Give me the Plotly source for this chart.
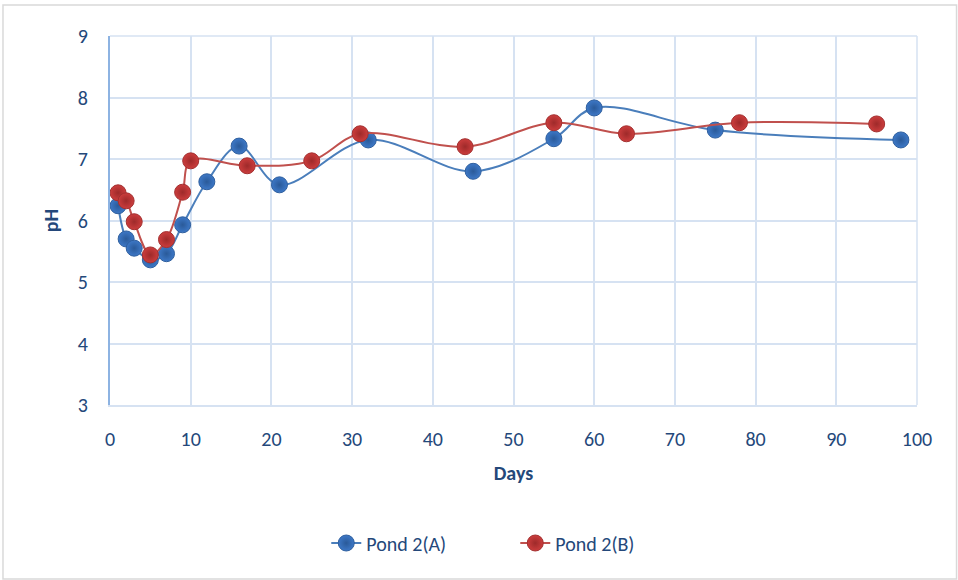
import plotly.graph_objects as go

days_a = [1, 2, 3, 5, 7, 9, 12, 16, 21, 32, 45, 55, 60, 75, 98]
ph_a = [6.24, 5.70, 5.55, 5.36, 5.46, 5.93, 6.63, 7.21, 6.58, 7.31, 6.80, 7.33, 7.83, 7.47, 7.31]

days_b = [1, 2, 3, 5, 7, 9, 10, 17, 25, 31, 44, 55, 64, 78, 95]
ph_b = [6.45, 6.32, 5.98, 5.44, 5.69, 6.46, 6.97, 6.89, 6.97, 7.41, 7.20, 7.59, 7.41, 7.59, 7.57]

x_ticks = list(range(0, 101, 10))
y_ticks = list(range(3, 10))

text_color = "#24487a"
grid_color = "#d6e2f2"
font_family = "Carlito, Calibri, Lato, 'Open Sans', sans-serif"

fig = go.Figure()
fig.add_trace(go.Scatter(
    x=days_a, y=ph_a, name="Pond 2(A)", mode="lines+markers",
    line=dict(color="#4a7ebb", width=2, shape="spline", smoothing=1.0),
    marker=dict(size=16, color="#3d78c7", line=dict(color="#2f5f9e", width=1),
                gradient=dict(type="radial", color="#2a5a99")),
))
fig.add_trace(go.Scatter(
    x=days_b, y=ph_b, name="Pond 2(B)", mode="lines+markers",
    line=dict(color="#c0504d", width=2, shape="spline", smoothing=1.0),
    marker=dict(size=16, color="#cc3d3d", line=dict(color="#a33030", width=1),
                gradient=dict(type="radial", color="#9e2a2a")),
))

fig.update_layout(
    width=958, height=580,
    margin=dict(l=110, r=41, t=36, b=175),
    paper_bgcolor="white", plot_bgcolor="white",
    font=dict(family=font_family, size=20, color=text_color),
    showlegend=True,
    legend=dict(orientation="h", x=0.268, xanchor="left", y=-0.374, yanchor="middle",
                font=dict(size=20, color=text_color), entrywidth=144, entrywidthmode="pixels"),
    xaxis=dict(range=[0, 100], tickvals=x_ticks, showgrid=True, gridcolor=grid_color,
               gridwidth=1.5, zeroline=False, showline=True, linecolor=grid_color,
               linewidth=1.5, ticks="", ticklabelstandoff=15,
               title=dict(text="<b>Days</b>", font=dict(size=20, color=text_color), standoff=16)),
    yaxis=dict(range=[3, 9], tickvals=y_ticks, showgrid=True, gridcolor=grid_color,
               gridwidth=1.5, zeroline=False, showline=True, linecolor="#8db3e2",
               linewidth=2, ticks="", ticklabelstandoff=16,
               title=dict(text="<b>pH</b>", font=dict(size=20, color=text_color), standoff=14)),
    shapes=[
        dict(type="rect", xref="paper", yref="paper", x0=-0.1326, x1=1.049, y0=-0.4715, y1=1.084,
             line=dict(color="#d9d9d9", width=1.5), fillcolor="rgba(0,0,0,0)", layer="below"),
        dict(type="line", xref="paper", yref="paper", x0=0, x1=1, y0=1, y1=1,
             line=dict(color=grid_color, width=1.5), layer="below"),
        dict(type="line", xref="paper", yref="paper", x0=1, x1=1, y0=0, y1=1,
             line=dict(color=grid_color, width=1.5), layer="below"),
    ],
)

fig.write_html("out.html", config={"displayModeBar": False},
               post_script="document.body.style.margin='0';")
